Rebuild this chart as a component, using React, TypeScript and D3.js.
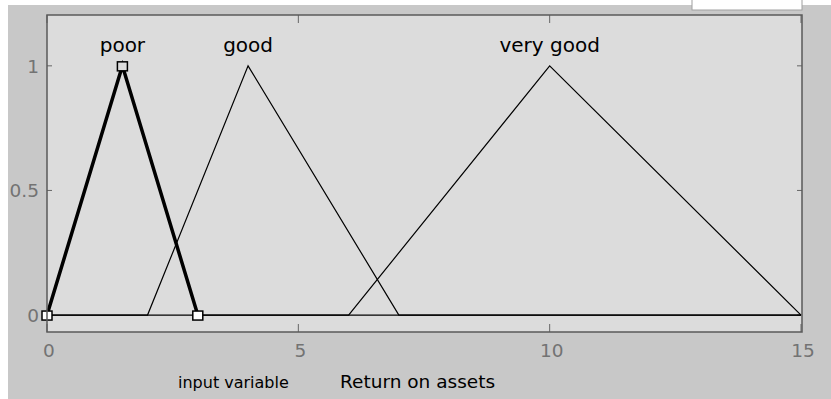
import React from "react";
import * as d3 from "d3";

const mfNames = ["poor", "good", "very good"];
const mfParams: number[][] = [
  [0, 1.5, 3],
  [2, 4, 7],
  [6, 10, 15],
];
const selectedIndex = 0;
const xTicks = [0, 5, 10, 15];
const yTicks = [0, 0.5, 1];
const yTickLabels = ["0", "0.5", "1"];
const xDomain: [number, number] = [0, 15];
const yDomain: [number, number] = [-0.068, 1.204];
const inputLabel = "input variable";
const variableName = "Return on assets";

const W = 831;
const H = 399;
const plot = { left: 47, right: 801, top: 15, bottom: 332 };

export default function App() {
  const x = d3.scaleLinear().domain(xDomain).range([plot.left, plot.right]);
  const y = d3.scaleLinear().domain(yDomain).range([plot.bottom, plot.top]);
  const line = d3
    .line<[number, number]>()
    .x((d) => x(d[0]))
    .y((d) => y(d[1]));
  const font = "'DejaVu Sans', Verdana, sans-serif";

  return (
    <svg
      width={W}
      height={H}
      style={{ position: "absolute", left: 0, top: 0, display: "block" }}
    >
      <rect x={0} y={0} width={W} height={H} fill="#ffffff" />
      <rect x={8} y={5} width={W - 8} height={H - 5} fill="#c8c8c8" />
      <rect x={692} y={-1} width={110} height={11} fill="#ffffff" stroke="#a0a0a0" />
      <rect
        x={plot.left}
        y={plot.top}
        width={plot.right + 1 - plot.left}
        height={plot.bottom - plot.top}
        fill="#dcdcdc"
      />
      {/* ticks */}
      {xTicks.map((t) => (
        <g key={"xt" + t}>
          <line x1={x(t)} x2={x(t)} y1={plot.bottom} y2={plot.bottom - 8} stroke="#666" />
          <line x1={x(t)} x2={x(t)} y1={plot.top} y2={plot.top + 8} stroke="#666" />
          <text
            x={x(t) + 2}
            y={plot.bottom + 25}
            textAnchor="middle"
            fontFamily={font}
            fontSize={18.5}
            fill="#737373"
          >
            {t}
          </text>
        </g>
      ))}
      {yTicks.map((t, i) => (
        <g key={"yt" + t}>
          <line x1={plot.left} x2={plot.left + 5} y1={y(t)} y2={y(t)} stroke="#666" />
          <line x1={plot.right + 1} x2={plot.right - 4} y1={y(t)} y2={y(t)} stroke="#666" />
          <text
            x={plot.left - 8}
            y={y(t) + 7}
            textAnchor="end"
            fontFamily={font}
            fontSize={18.5}
            fill="#737373"
          >
            {yTickLabels[i]}
          </text>
        </g>
      ))}
      {/* membership functions: thin full-range curves */}
      {mfParams.map((p, i) => {
        const pts: [number, number][] = [
          [xDomain[0], 0],
          [p[0], 0],
          [p[1], 1],
          [p[2], 0],
          [xDomain[1], 0],
        ];
        return (
          <path
            key={"mf" + i}
            d={line(pts) || ""}
            fill="none"
            stroke="#000"
            strokeWidth={1.2}
          />
        );
      })}
      {/* selected MF highlighted over its support */}
      <path
        d={
          line([
            [mfParams[selectedIndex][0], 0],
            [mfParams[selectedIndex][1], 1],
            [mfParams[selectedIndex][2], 0],
          ]) || ""
        }
        fill="none"
        stroke="#000"
        strokeWidth={3.5}
      />
      {mfParams[selectedIndex].map((v, j) => (
        <rect
          key={"sq" + j}
          x={x(v) - 5}
          y={y(j === 1 ? 1 : 0) - 4}
          width={10}
          height={9}
          fill={j === 1 ? "#dcdcdc" : "#ffffff"}
          stroke="#000"
          strokeWidth={1.5}
        />
      ))}
      {mfNames.map((n, i) => (
        <text
          key={"lbl" + i}
          x={x(mfParams[i][1])}
          y={52}
          textAnchor="middle"
          fontFamily={font}
          fontSize={20}
          fill="#000"
        >
          {n}
        </text>
      ))}
      {/* frame */}
      <rect
        x={plot.left}
        y={plot.top}
        width={plot.right + 1 - plot.left}
        height={plot.bottom - plot.top}
        fill="none"
        stroke="#5a5a5a"
        strokeWidth={1.5}
      />
      <text x={178} y={388} fontFamily={font} fontSize={16} fill="#000">
        {inputLabel}
      </text>
      <text x={340} y={388} fontFamily={font} fontSize={18.5} fill="#000">
        {variableName}
      </text>
    </svg>
  );
}
